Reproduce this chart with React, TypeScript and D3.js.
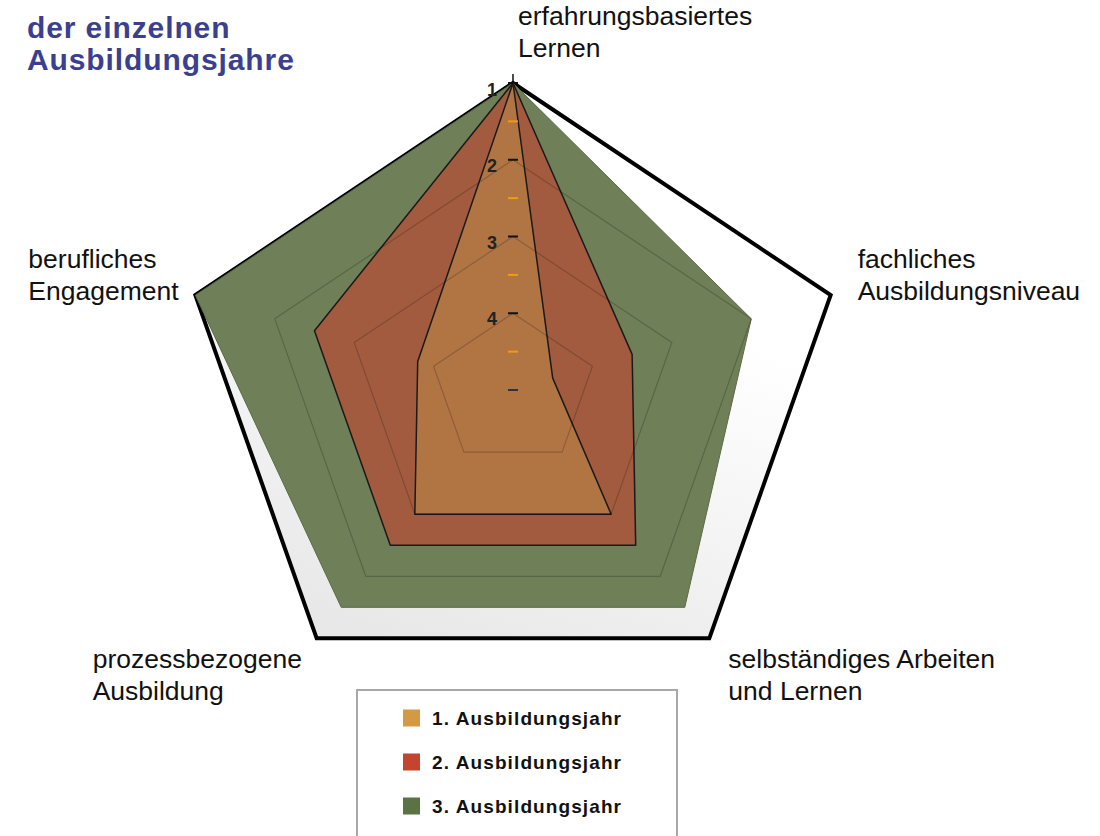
import * as d3 from "d3";
import { useEffect, useRef } from "react";

// axes clockwise from top
const axisLabels = [
  ["erfahrungsbasiertes", "Lernen"],
  ["fachliches", "Ausbildungsniveau"],
  ["selbständiges Arbeiten", "und Lernen"],
  ["prozessbezogene", "Ausbildung"],
  ["berufliches", "Engagement"],
];
const seriesNames = ["1. Ausbildungsjahr", "2. Ausbildungsjahr", "3. Ausbildungsjahr"];
const jahr1 = [1, 4.5, 3, 3, 3.8];
const jahr2 = [1, 3.5, 2.5, 2.5, 2.5];
const jahr3 = [1, 2, 1.5, 1.5, 1];
const gridLevels = [2, 3, 4];
const tickValues = [1, 2, 3, 4, 5];
const tickLabels = ["1", "2", "3", "4", ""];
const halfTicks = [1.5, 2.5, 3.5, 4.5];
const titleLines = ["der einzelnen", "Ausbildungsjahre"];

const fillColors = ["#b17544", "#a35b3f", "#6f7f58"];
const strokeColors = ["#1a1a1a", "#1a1a1a", "#5a6a46"];
const legendColors = ["#d39a45", "#c4452f", "#5a7244"];

const W = 1100;
const H = 836;

export default function App() {
  const ref = useRef<SVGSVGElement>(null);

  useEffect(() => {
    if (!ref.current) return;
    const svg = d3.select(ref.current);
    svg.selectAll("*").remove();

    const cx = 513;
    const cy = 390;
    const rx = 334; // chart is a bit stretched horizontally
    const ry = 307;
    const font = "'Liberation Sans', Arial, sans-serif";

    const r = d3.scaleLinear().domain([5, 1]).range([0, 1]);
    const angle = d3
      .scaleLinear()
      .domain([0, axisLabels.length])
      .range([0, 2 * Math.PI]);

    const pt = (i: number, v: number): [number, number] => [
      cx + rx * r(v) * Math.sin(angle(i)),
      cy - ry * r(v) * Math.cos(angle(i)),
    ];
    const line = d3.line<[number, number]>().curve(d3.curveLinearClosed);
    const ring = (vals: number[]) => line(vals.map((v, i) => pt(i, v)));

    const defs = svg.append("defs");
    const grad = defs
      .append("linearGradient")
      .attr("id", "bg")
      .attr("x1", 0.7)
      .attr("y1", 0)
      .attr("x2", 0.3)
      .attr("y2", 1);
    grad.append("stop").attr("offset", "0.35").attr("stop-color", "#ffffff");
    grad.append("stop").attr("offset", "1").attr("stop-color", "#e8e8e8");

    // title
    svg
      .append("g")
      .selectAll("text")
      .data(titleLines)
      .enter()
      .append("text")
      .attr("x", 27)
      .attr("y", (d, i) => 38 + i * 32)
      .attr("font-family", font)
      .attr("font-weight", "bold")
      .attr("font-size", 30)
      .attr("letter-spacing", 0.9)
      .attr("fill", "#3b3f8f")
      .text((d) => d);

    // outer pentagon
    const outer = axisLabels.map(() => 1);
    svg
      .append("path")
      .attr("d", ring(outer))
      .attr("fill", "url(#bg)")
      .attr("stroke", "#000")
      .attr("stroke-width", 4)
      .attr("stroke-linejoin", "miter");

    // series, 3rd year at the back
    const series = [jahr1, jahr2, jahr3];
    [2, 1, 0].forEach((s) => {
      svg
        .append("path")
        .attr("d", ring(series[s]))
        .attr("fill", fillColors[s])
        .attr("stroke", strokeColors[s])
        .attr("stroke-width", s === 2 ? 1 : 1.5)
        .attr("stroke-linejoin", "round");
    });

    // grid rings on top
    svg
      .append("g")
      .selectAll("path")
      .data(gridLevels)
      .enter()
      .append("path")
      .attr("d", (lv) => ring(axisLabels.map(() => lv)))
      .attr("fill", "none")
      .attr("stroke", "rgba(0,0,0,0.2)")
      .attr("stroke-width", 1.2);

    // ticks on the top axis
    const tickG = svg.append("g");
    tickG
      .append("line")
      .attr("x1", cx)
      .attr("x2", cx)
      .attr("y1", pt(0, 1)[1] - 9)
      .attr("y2", pt(0, 1)[1])
      .attr("stroke", "#111")
      .attr("stroke-width", 1.5);
    tickG
      .selectAll(".tk")
      .data(tickValues)
      .enter()
      .append("line")
      .attr("x1", cx - 5)
      .attr("x2", cx + 5)
      .attr("y1", (v) => pt(0, v)[1])
      .attr("y2", (v) => pt(0, v)[1])
      .attr("stroke", (v) => (v === 5 ? "#333" : "#111"))
      .attr("stroke-width", 2);
    tickG
      .selectAll(".ht")
      .data(halfTicks)
      .enter()
      .append("line")
      .attr("x1", cx - 5)
      .attr("x2", cx + 5)
      .attr("y1", (v) => pt(0, v)[1])
      .attr("y2", (v) => pt(0, v)[1])
      .attr("stroke", "#f39a12")
      .attr("stroke-width", 2);
    tickG
      .selectAll("text")
      .data(tickValues)
      .enter()
      .append("text")
      .attr("x", cx - 16)
      .attr("y", (v, i) => pt(0, v)[1] + (i === 0 ? 13 : 12))
      .attr("text-anchor", "end")
      .attr("font-family", font)
      .attr("font-weight", "bold")
      .attr("font-size", 18)
      .attr("fill", "#222")
      .text((v, i) => tickLabels[i]);

    // axis labels, offset from their vertex
    const labelOffsets = [
      [5, -58],
      [27, -27],
      [19, 30],
      [-224, 30],
      [-167, -27],
    ];
    axisLabels.forEach((lines, i) => {
      const [vx, vy] = pt(i, 1);
      const t = svg
        .append("text")
        .attr("font-family", font)
        .attr("font-size", 26.5)
        .attr("fill", "#111");
      lines.forEach((l, j) => {
        t.append("tspan")
          .attr("x", vx + labelOffsets[i][0])
          .attr("y", vy + labelOffsets[i][1] + j * 32)
          .text(l);
      });
    });

    // legend
    const lg = svg.append("g").attr("transform", "translate(357,690)");
    lg.append("rect")
      .attr("width", 320)
      .attr("height", 170)
      .attr("fill", "#fff")
      .attr("stroke", "#a8a8a8")
      .attr("stroke-width", 2);
    const item = lg
      .selectAll(".item")
      .data(seriesNames)
      .enter()
      .append("g")
      .attr("transform", (d, i) => `translate(46,${28 + i * 44})`);
    item
      .append("rect")
      .attr("y", -8.5)
      .attr("width", 17)
      .attr("height", 17)
      .attr("fill", (d, i) => legendColors[i]);
    item
      .append("text")
      .attr("x", 29)
      .attr("y", 7)
      .attr("font-family", font)
      .attr("font-weight", "bold")
      .attr("font-size", 19)
      .attr("letter-spacing", 1.1)
      .attr("fill", "#111")
      .text((d) => d);
  }, []);

  return (
    <svg
      ref={ref}
      width={W}
      height={H}
      style={{ position: "absolute", left: 0, top: 0, background: "#fff" }}
    />
  );
}
